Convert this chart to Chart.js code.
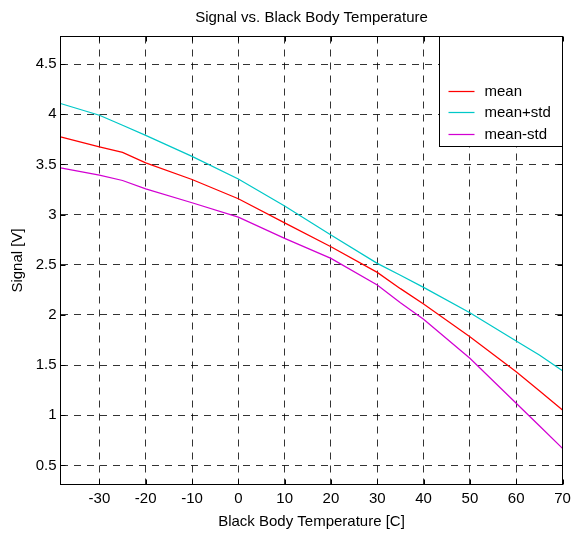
<!DOCTYPE html>
<html>
<head>
<meta charset="utf-8">
<script src="https://cdn.jsdelivr.net/npm/chart.js@4"></script>
<style>
html,body{margin:0;padding:0;background:#fff;}
canvas{display:block;}
</style>
</head>
<body>
<canvas id="c" width="571" height="535"></canvas>
<script>
const chartTitle = "Signal vs. Black Body Temperature";
const xTitle = "Black Body Temperature [C]";
const yTitle = "Signal [V]";
const seriesLabels = ["mean", "mean+std", "mean-std"];
const seriesColors = ["rgb(255,0,0)", "rgb(0,200,200)", "rgb(210,0,210)"];

const temps     = [-38.4, -30, -25, -20, -10, 0, 10, 20, 30, 35, 40, 50, 60, 65, 70];
const meanVals  = [3.775, 3.675, 3.62, 3.516, 3.35, 3.158, 2.918, 2.68, 2.424, 2.262, 2.108, 1.783, 1.434, 1.245, 1.053];
const plusVals  = [4.107, 3.99, 3.89, 3.79, 3.58, 3.355, 3.085, 2.796, 2.514, 2.396, 2.275, 2.022, 1.74, 1.60, 1.444];
const minusVals = [3.466, 3.393, 3.34, 3.257, 3.118, 2.975, 2.763, 2.564, 2.298, 2.122, 1.956, 1.568, 1.12, 0.895, 0.67];

const xTickValues = [-30, -20, -10, 0, 10, 20, 30, 40, 50, 60, 70];
const yTickValues = [0.5, 1, 1.5, 2, 2.5, 3, 3.5, 4, 4.5];

const FONT = '"Liberation Sans", Arial, Helvetica, sans-serif';
const seriesVals = [meanVals, plusVals, minusVals];

const datasets = seriesVals.map((vals, i) => ({
  label: seriesLabels[i],
  data: temps.map((t, j) => ({x: t, y: vals[j]})),
  borderColor: seriesColors[i],
  backgroundColor: seriesColors[i],
  borderWidth: 1.25,
  pointRadius: 0,
  tension: 0,
  fill: false
}));

const matlabPlugin = {
  id: 'matlab',
  afterDraw(chart) {
    const ctx = chart.ctx;
    const a = chart.chartArea;
    const xs = chart.scales.x, ys = chart.scales.y;
    ctx.save();
    // title
    ctx.fillStyle = '#000';
    ctx.font = '15px ' + FONT;
    ctx.textAlign = 'center';
    ctx.textBaseline = 'middle';
    ctx.fillText(chartTitle, (a.left + a.right) / 2, 18);
    // inward ticks
    ctx.strokeStyle = '#000';
    ctx.lineWidth = 1;
    ctx.setLineDash([]);
    const tl = 5;
    ctx.beginPath();
    xTickValues.forEach(v => {
      const px = Math.round(xs.getPixelForValue(v)) + 0.5;
      ctx.moveTo(px, a.top); ctx.lineTo(px, a.top + tl);
      ctx.moveTo(px, a.bottom); ctx.lineTo(px, a.bottom - tl);
    });
    yTickValues.forEach(v => {
      const py = Math.round(ys.getPixelForValue(v)) + 0.5;
      ctx.moveTo(a.left, py); ctx.lineTo(a.left + tl, py);
      ctx.moveTo(a.right, py); ctx.lineTo(a.right - tl, py);
    });
    ctx.stroke();
    // legend box
    const lw = 123, lh = 110;
    const lx = a.right - lw, ly = a.top;
    ctx.fillStyle = '#fff';
    ctx.fillRect(lx, ly, lw, lh);
    ctx.strokeStyle = '#000';
    ctx.strokeRect(lx, ly, lw, lh);
    ctx.font = '15px ' + FONT;
    ctx.textAlign = 'left';
    ctx.textBaseline = 'middle';
    seriesLabels.forEach((lab, i) => {
      const y = Math.round(ly + 54 + i * 21.7) + 0.5;
      ctx.strokeStyle = seriesColors[i];
      ctx.lineWidth = 1.25;
      ctx.beginPath();
      ctx.moveTo(lx + 9, y); ctx.lineTo(lx + 35, y);
      ctx.stroke();
      ctx.fillStyle = '#000';
      ctx.fillText(lab, lx + 45, y);
    });
    // axes box
    ctx.lineWidth = 1;
    ctx.strokeStyle = '#000';
    ctx.strokeRect(a.left, a.top, a.right - a.left, a.bottom - a.top);
    ctx.restore();
  }
};

new Chart(document.getElementById('c'), {
  type: 'line',
  data: { datasets },
  options: {
    responsive: false,
    animation: false,
    devicePixelRatio: 1,
    layout: { padding: { top: 36.5, right: 8.5, left: 0, bottom: 0 } },
    plugins: {
      legend: { display: false },
      title: { display: false },
      tooltip: { enabled: false }
    },
    scales: {
      x: {
        type: 'linear',
        min: -38.4,
        max: 70,
        afterBuildTicks: s => { s.ticks = xTickValues.map(v => ({value: v})); },
        afterFit: s => { s.height = 50.5; s.paddingLeft = 0; s.paddingRight = 0; },
        ticks: {
          callback: v => String(v),
          color: '#000',
          font: { family: FONT, size: 15 },
          padding: 5,
          maxRotation: 0,
          autoSkip: false
        },
        grid: { color: 'rgba(0,0,0,0.8)', lineWidth: 1, drawTicks: false },
        border: { display: false, dash: [7, 6] },
        title: {
          display: true, text: xTitle, color: '#000',
          font: { family: FONT, size: 15 },
          padding: { top: 0, bottom: 4.5 }
        }
      },
      y: {
        type: 'linear',
        min: 0.31,
        max: 4.775,
        afterBuildTicks: s => { s.ticks = yTickValues.map(v => ({value: v})); },
        afterFit: s => { s.width = 60.5; s.paddingTop = 0; s.paddingBottom = 0; },
        ticks: {
          callback: v => String(v),
          color: '#000',
          font: { family: FONT, size: 15 },
          padding: 4,
          autoSkip: false
        },
        grid: { color: 'rgba(0,0,0,0.8)', lineWidth: 1, drawTicks: false },
        border: { display: false, dash: [7, 6] },
        title: {
          display: true, text: yTitle, color: '#000',
          font: { family: FONT, size: 15 },
          padding: { top: 8.5, bottom: 0 }
        }
      }
    }
  },
  plugins: [matlabPlugin]
});
</script>
</body>
</html>
